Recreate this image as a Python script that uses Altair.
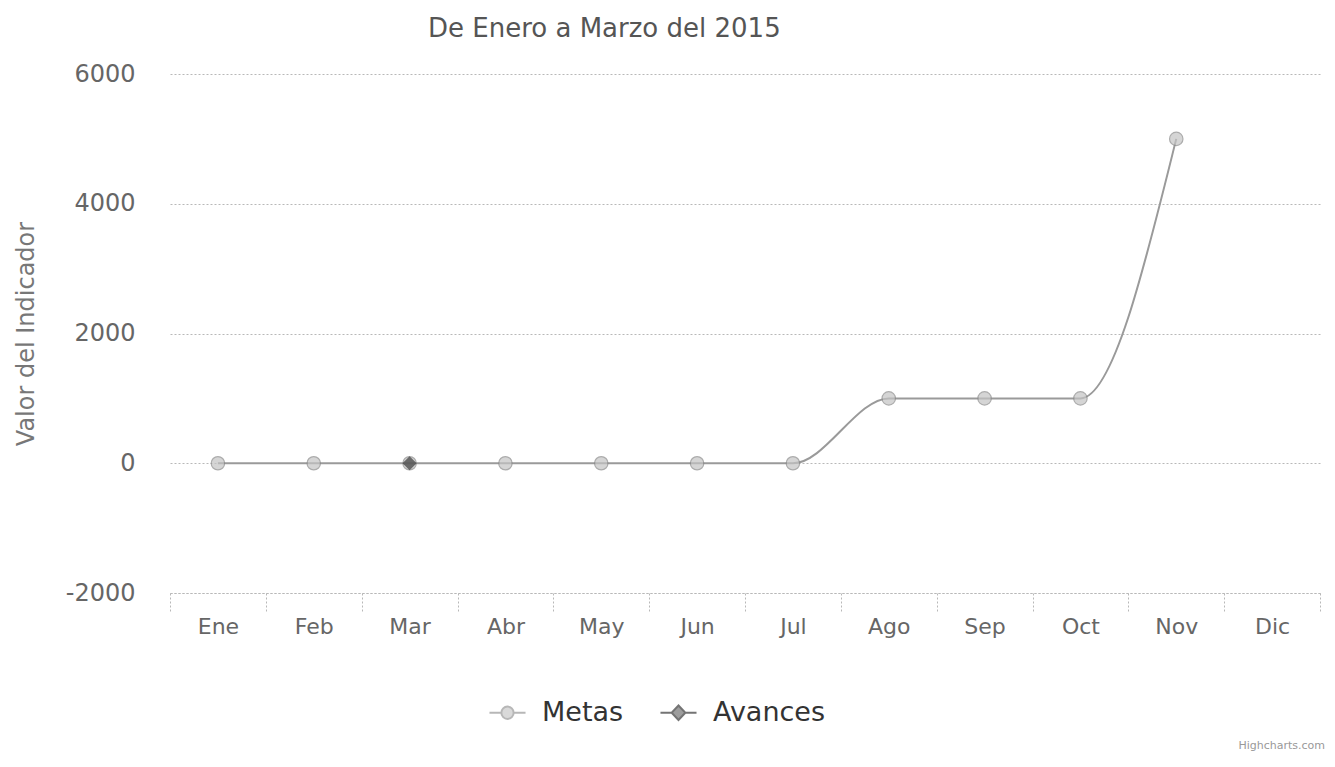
import altair as alt
import pandas as pd

meses = ["Ene", "Feb", "Mar", "Abr", "May", "Jun", "Jul", "Ago", "Sep", "Oct", "Nov", "Dic"]
metas = [0, 0, 0, 0, 0, 0, 0, 1000, 1000, 1000, 5000, None]
avances = [None, None, 0, None, None, None, None, None, None, None, None, None]
series = ["Metas", "Avances"]
serie_colores = ["#b4b4b4", "#3a3a3a"]
y_ticks = [-2000, 0, 2000, 4000, 6000]

rows = []
for m, v in zip(meses, metas):
    rows.append({"mes": m, "serie": "Metas", "valor": v})
for m, v in zip(meses, avances):
    rows.append({"mes": m, "serie": "Avances", "valor": v})
df = pd.DataFrame(rows)

FONT = "DejaVu Sans"

x_enc = alt.X(
    "mes:N",
    sort=meses,
    bandPosition=0.5,
    scale=alt.Scale(type="band", domain=meses, paddingInner=0, paddingOuter=0),
    axis=alt.Axis(
        title=None, labelAngle=0, tickBand="extent", ticks=True, tickSize=18,
        tickColor="#b8b8b8", tickDash=[2, 2], domainColor="#b8b8b8", domainDash=[2, 2],
        labelFontSize=22, labelColor="#666666", labelFont=FONT, labelPadding=5, grid=False,
    ),
)
y_enc = alt.Y(
    "valor:Q",
    scale=alt.Scale(domain=[-2000, 6000], nice=False, zero=False),
    axis=alt.Axis(
        values=y_ticks, title="Valor del Indicador", titleFontSize=24, titleColor="#777777",
        titleFont=FONT, titleFontWeight="normal", titlePadding=27,
        labelFontSize=24, labelColor="#666666", labelFont=FONT, labelPadding=35,
        labelExpr="datum.value < 0 ? '-' + abs(datum.value) : '' + datum.value",
        ticks=False, tickSize=0, domain=False, grid=True, gridColor="#b8b8b8",
        gridDash=[2, 2], gridWidth=1,
    ),
)

base = alt.Chart(df)

linea = base.transform_filter("datum.serie == 'Metas' && isValid(datum.valor)").mark_line(
    interpolate="monotone", color="#9a9a9a", strokeWidth=2
).encode(x=x_enc, y=y_enc)

puntos_metas = base.transform_filter("datum.serie == 'Metas' && isValid(datum.valor)").mark_point(
    shape="circle", filled=True, size=180, color="#c4c4c4", stroke="#8a8a8a", strokeWidth=1.2
).encode(x=x_enc, y=y_enc)

puntos_avances = base.transform_filter("datum.serie == 'Avances' && isValid(datum.valor)").mark_point(
    shape="diamond", filled=True, size=200, color="#3a3a3a"
).encode(x=x_enc, y=y_enc)

paths = [
    "M-1,0L-0.38,0M0.38,0L1,0M-0.34,0A0.34,0.34,0,1,0,0.34,0A0.34,0.34,0,1,0,-0.34,0Z",
    "M-1,0L-0.38,0M0.38,0L1,0M0,-0.4L0.38,0L0,0.4L-0.38,0Z",
]
leyenda = alt.Legend(
    title=None, orient="none", legendX=318, legendY=619, direction="horizontal",
    labelFontSize=27, labelColor="#333333", labelFont=FONT, symbolSize=1300,
    symbolStrokeWidth=2, labelOffset=15, columnPadding=32, padding=0,
)
capa_leyenda = base.transform_filter("false").mark_point(filled=True, size=1300).encode(
    shape=alt.Shape("serie:N", scale=alt.Scale(domain=series, range=paths), legend=leyenda),
    fill=alt.Fill("serie:N", scale=alt.Scale(domain=series, range=serie_colores), legend=leyenda),
    stroke=alt.Stroke("serie:N", scale=alt.Scale(domain=series, range=["#9a9a9a", "#3a3a3a"]), legend=leyenda),
)

creditos = alt.Chart(pd.DataFrame({"t": ["Highcharts.com"]})).mark_text(
    align="right", baseline="middle", fontSize=11, color="#999999", font=FONT
).encode(x=alt.value(1155), y=alt.value(672), text="t:N")

chart = alt.layer(linea, puntos_metas, puntos_avances, capa_leyenda, creditos).properties(
    width=1150,
    height=519,
    autosize=alt.AutoSizeParams(type="none"),
    padding={"left": 162, "top": 66, "right": 7, "bottom": 166},
    title=alt.TitleParams(
        "De Enero a Marzo del 2015", anchor="start", frame="group", dx=258,
        fontSize=26, font=FONT, fontWeight="normal", color="#555555",
        baseline="bottom", offset=0, dy=6,
    ),
).configure_view(stroke=None)

chart.save("out.html", embed_options={"renderer": "svg", "actions": False})
